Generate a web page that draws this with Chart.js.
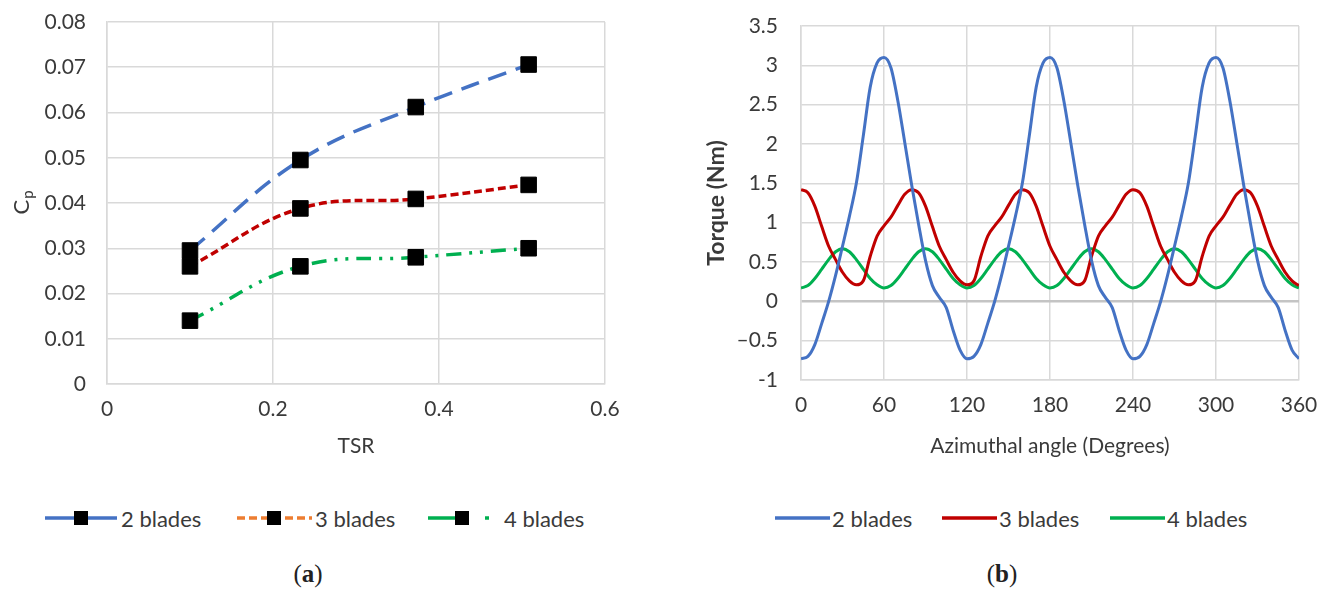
<!DOCTYPE html>
<html lang="en">
<head>
<meta charset="UTF-8">
<title>Power coefficient and torque by blade count</title>
<script src="https://cdn.jsdelivr.net/npm/chart.js"></script>
<style>
    body { margin: 0; background: #fff; font-family: Lato, sans-serif; color: #3a3a3a; }
    #page { position: relative; width: 1333px; height: 591px; overflow: hidden; }
    .chartBox { position: absolute; top: 0; height: 470px; }
    #boxA { left: 0; width: 660px; }
    #boxB { left: 680px; width: 653px; }
    .item { position: absolute; top: 505px; height: 26px; display: flex; align-items: center; font-size: 22px; white-space: nowrap; }
    .item svg { display: block; }
    .caption { position: absolute; top: 560px; font-family: "Liberation Serif", serif; font-size: 25px; color: #222; transform: translateX(-50%); }
</style>
</head>
<body>
<div id="page">
    <div class="chartBox" id="boxA"><canvas id="cpChart"></canvas></div>
    <div class="chartBox" id="boxB"><canvas id="torqueChart"></canvas></div>

    <!-- legend (a) -->
    <div class="item" style="left:45px">
        <svg width="72" height="20"><line x1="0" y1="10" x2="72" y2="10" stroke="#4472C4" stroke-width="3.5"/><rect x="29" y="3" width="14" height="14" fill="#000"/></svg>
        <span style="margin-left:4px">2 blades</span>
    </div>
    <div class="item" style="left:237px">
        <svg width="75" height="20"><line x1="0" y1="10" x2="75" y2="10" stroke="#ED7D31" stroke-width="3.5" stroke-dasharray="8 4"/><rect x="30" y="3" width="14" height="14" fill="#000"/></svg>
        <span style="margin-left:3px">3 blades</span>
    </div>
    <div class="item" style="left:428px">
        <svg width="62" height="20"><line x1="0" y1="10" x2="40" y2="10" stroke="#00B050" stroke-width="3.5"/><rect x="27" y="3" width="14" height="14" fill="#000"/><line x1="57" y1="10" x2="61" y2="10" stroke="#00B050" stroke-width="3.5"/></svg>
        <span style="margin-left:14px">4 blades</span>
    </div>

    <!-- legend (b) -->
    <div class="item" style="left:775px">
        <svg width="55" height="20"><line x1="0" y1="10" x2="55" y2="10" stroke="#4472C4" stroke-width="3.5" stroke-linecap="round"/></svg>
        <span style="margin-left:2px">2 blades</span>
    </div>
    <div class="item" style="left:942px">
        <svg width="55" height="20"><line x1="0" y1="10" x2="55" y2="10" stroke="#C00000" stroke-width="3.5" stroke-linecap="round"/></svg>
        <span style="margin-left:2px">3 blades</span>
    </div>
    <div class="item" style="left:1110px">
        <svg width="55" height="20"><line x1="0" y1="10" x2="55" y2="10" stroke="#00B050" stroke-width="3.5" stroke-linecap="round"/></svg>
        <span style="margin-left:2px">4 blades</span>
    </div>

    <div class="caption" style="left:308px">(<b>a</b>)</div>
    <div class="caption" style="left:1002px">(<b>b</b>)</div>
</div>

<script>
// ---- (a) power coefficient vs tip speed ratio ----
const tsr = [0.1, 0.233, 0.372, 0.508];
const cp2Blades = [0.0295, 0.0495, 0.0612, 0.0706];
const cp3Blades = [0.026, 0.0388, 0.0409, 0.044];
const cp4Blades = [0.014, 0.026, 0.028, 0.030];
const tsrTickLabels = ['0', '0.2', '0.4', '0.6'];
const cpTickLabels = ['0', '0.01', '0.02', '0.03', '0.04', '0.05', '0.06', '0.07', '0.08'];

// ---- (b) torque over one revolution ----
const angle = [0, 5, 10, 15, 20, 25, 30, 35, 40, 45, 50, 55, 60, 65, 70, 75, 80, 85, 90, 95,
    100, 105, 110, 115, 120, 125, 130, 135, 140, 145, 150, 155, 160, 165, 170, 175, 180, 185, 190, 195,
    200, 205, 210, 215, 220, 225, 230, 235, 240, 245, 250, 255, 260, 265, 270, 275, 280, 285, 290, 295,
    300, 305, 310, 315, 320, 325, 330, 335, 340, 345, 350, 355, 360];
const torque2Blades = [
    -0.73, -0.70, -0.55, -0.28, 0.00, 0.33, 0.70, 1.08, 1.50, 2.10, 2.72, 3.03, 3.10, 2.97, 2.55, 2.02, 1.48, 0.98, 0.52, 0.20, 0.05, -0.08, -0.37, -0.62,
    -0.73, -0.70, -0.55, -0.28, 0.00, 0.33, 0.70, 1.08, 1.50, 2.10, 2.72, 3.03, 3.10, 2.97, 2.55, 2.02, 1.48, 0.98, 0.52, 0.20, 0.05, -0.08, -0.37, -0.62,
    -0.73, -0.70, -0.55, -0.28, 0.00, 0.33, 0.70, 1.08, 1.50, 2.10, 2.72, 3.03, 3.10, 2.97, 2.55, 2.02, 1.48, 0.98, 0.52, 0.20, 0.05, -0.08, -0.37, -0.62,
    -0.73];
const torque3Blades = [
    1.42, 1.38, 1.21, 0.95, 0.70, 0.53, 0.37, 0.26, 0.21, 0.26, 0.57, 0.83, 0.96, 1.07, 1.22, 1.36,
    1.42, 1.38, 1.21, 0.95, 0.70, 0.53, 0.37, 0.26, 0.21, 0.26, 0.57, 0.83, 0.96, 1.07, 1.22, 1.36,
    1.42, 1.38, 1.21, 0.95, 0.70, 0.53, 0.37, 0.26, 0.21, 0.26, 0.57, 0.83, 0.96, 1.07, 1.22, 1.36,
    1.42, 1.38, 1.21, 0.95, 0.70, 0.53, 0.37, 0.26, 0.21, 0.26, 0.57, 0.83, 0.96, 1.07, 1.22, 1.36,
    1.42, 1.38, 1.21, 0.95, 0.70, 0.53, 0.37, 0.26,
    0.20];
const torque4Blades = [
    0.17, 0.20, 0.29, 0.41, 0.53, 0.63, 0.67, 0.63, 0.53, 0.41, 0.29, 0.21,
    0.17, 0.20, 0.29, 0.41, 0.53, 0.63, 0.67, 0.63, 0.53, 0.41, 0.29, 0.21,
    0.17, 0.20, 0.29, 0.41, 0.53, 0.63, 0.67, 0.63, 0.53, 0.41, 0.29, 0.21,
    0.17, 0.20, 0.29, 0.41, 0.53, 0.63, 0.67, 0.63, 0.53, 0.41, 0.29, 0.21,
    0.17, 0.20, 0.29, 0.41, 0.53, 0.63, 0.67, 0.63, 0.53, 0.41, 0.29, 0.21,
    0.17, 0.20, 0.29, 0.41, 0.53, 0.63, 0.67, 0.63, 0.53, 0.41, 0.29, 0.21,
    0.17];
const angleTickLabels = ['0', '60', '120', '180', '240', '300', '360'];
const torqueTickLabels = ['-1', '\u20130.5', '0', '0.5', '1', '1.5', '2', '2.5', '3', '3.5'];

const textColor = '#3a3a3a';
const gridColor = '#d9d9d9';
const tickFont = { family: 'Lato', size: 21 };

function pairs(xs, ys) {
    return xs.map((x, i) => ({ x: x, y: ys[i] }));
}

// fixed y-axis width; drop the label overhang so layout.padding sets the plot top
function fixYAxis(width) {
    return (scale) => {
        scale.width = width;
        scale.paddingTop = 0;
        scale.paddingBottom = 0;
    };
}

// rotated "Cp" with a subscript p, drawn left of the y axis
const cpTitle = {
    id: 'cpTitle',
    afterDraw(chart) {
        const ctx = chart.ctx;
        const mid = (chart.chartArea.top + chart.chartArea.bottom) / 2;
        ctx.save();
        ctx.translate(22, mid);
        ctx.rotate(-Math.PI / 2);
        ctx.fillStyle = textColor;
        ctx.textBaseline = 'middle';
        ctx.font = '22px Lato';
        const wC = ctx.measureText('C').width;
        ctx.font = '15px Lato';
        const wP = ctx.measureText('p').width;
        const x0 = -(wC + wP) / 2;
        ctx.font = '22px Lato';
        ctx.fillText('C', x0, 0);
        ctx.font = '15px Lato';
        ctx.fillText('p', x0 + wC + 1, 6);
        ctx.restore();
    }
};

const markerStyle = {
    pointStyle: 'rect',
    pointRadius: 11,
    pointBackgroundColor: '#000',
    pointBorderColor: '#000',
    pointBorderWidth: 1
};

new Chart(document.getElementById('cpChart'), {
    type: 'line',
    data: {
        datasets: [
            Object.assign({ label: '2 blades', data: pairs(tsr, cp2Blades), borderColor: '#4472C4', borderWidth: 3.5, borderDash: [19, 10] }, markerStyle),
            Object.assign({ label: '3 blades', data: pairs(tsr, cp3Blades), borderColor: '#C00000', borderWidth: 3.5, borderDash: [8, 4] }, markerStyle),
            Object.assign({ label: '4 blades', data: pairs(tsr, cp4Blades), borderColor: '#00B050', borderWidth: 3.5, borderDash: [15, 8, 3, 8, 3, 8] }, markerStyle)
        ]
    },
    options: {
        responsive: true,
        maintainAspectRatio: false,
        animation: false,
        tension: 0.4,
        layout: { padding: { top: 22, right: 55, bottom: 0, left: 0 } },
        plugins: { legend: { display: false }, tooltip: { enabled: false } },
        scales: {
            x: {
                type: 'linear', min: 0, max: 0.6,
                afterFit: (scale) => { scale.height = 86; },
                ticks: { stepSize: 0.2, color: textColor, font: tickFont, padding: 13, maxRotation: 0,
                    callback: (v, i) => tsrTickLabels[i] },
                grid: { color: gridColor, lineWidth: 1.5, drawTicks: false },
                border: { color: gridColor, width: 1.5 },
                title: { display: true, text: 'TSR', color: textColor, font: tickFont, padding: { top: 0, bottom: 11 } }
            },
            y: {
                min: 0, max: 0.08,
                afterFit: fixYAxis(107),
                ticks: { stepSize: 0.01, color: textColor, font: tickFont, padding: 21,
                    callback: (v, i) => cpTickLabels[i] },
                grid: { color: gridColor, lineWidth: 1.5, drawTicks: false },
                border: { color: gridColor, width: 1.5 }
            }
        }
    },
    plugins: [cpTitle]
});

new Chart(document.getElementById('torqueChart'), {
    type: 'line',
    data: {
        datasets: [
            { label: '2 blades', data: pairs(angle, torque2Blades), borderColor: '#4472C4', borderWidth: 3 },
            { label: '3 blades', data: pairs(angle, torque3Blades), borderColor: '#C00000', borderWidth: 3 },
            { label: '4 blades', data: pairs(angle, torque4Blades), borderColor: '#00B050', borderWidth: 3 }
        ]
    },
    options: {
        responsive: true,
        maintainAspectRatio: false,
        animation: false,
        cubicInterpolationMode: 'monotone',
        pointRadius: 0,
        layout: { padding: { top: 26, right: 34, bottom: 0, left: 0 } },
        plugins: { legend: { display: false }, tooltip: { enabled: false } },
        scales: {
            x: {
                type: 'linear', min: 0, max: 360,
                afterFit: (scale) => { scale.height = 90; },
                ticks: { stepSize: 60, color: textColor, font: tickFont, padding: 13, maxRotation: 0,
                    callback: (v, i) => angleTickLabels[i] },
                grid: { color: gridColor, lineWidth: 1.5, drawTicks: false },
                border: { color: gridColor, width: 1.5 },
                title: { display: true, text: 'Azimuthal angle (Degrees)', color: textColor, font: tickFont, padding: { top: 0, bottom: 11 } }
            },
            y: {
                min: -1, max: 3.5,
                afterFit: fixYAxis(121),
                ticks: { stepSize: 0.5, color: textColor, font: tickFont, padding: 23,
                    callback: (v, i) => torqueTickLabels[i] },
                grid: {
                    color: (c) => c.tick && c.tick.value === 0 ? '#c4c4c4' : gridColor,
                    lineWidth: (c) => c.tick && c.tick.value === 0 ? 2.5 : 1.5,
                    drawTicks: false
                },
                border: { color: gridColor, width: 1.5 },
                title: { display: true, text: 'Torque (Nm)', color: textColor, font: { family: 'Lato', size: 23, weight: 'bold' }, padding: { top: 23, bottom: 0 } }
            }
        }
    }
});
</script>
</body>
</html>
